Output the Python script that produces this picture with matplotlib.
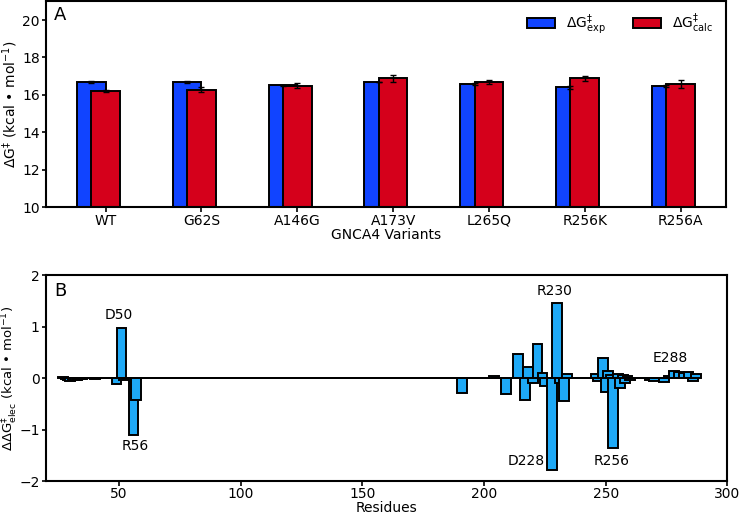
import numpy as np
import matplotlib
matplotlib.use("Agg")
import matplotlib.pyplot as plt

# ---------------- Panel A data ----------------
variants = ["WT", "G62S", "A146G", "A173V", "L265Q", "R256K", "R256A"]
dg_exp = [16.69, 16.69, 16.51, 16.69, 16.60, 16.40, 16.49]
dg_exp_err = [0.06, 0.07, 0.02, 0.02, 0.05, 0.10, 0.05]
dg_calc = [16.19, 16.28, 16.49, 16.88, 16.69, 16.88, 16.58]
dg_calc_err = [0.05, 0.13, 0.14, 0.21, 0.13, 0.13, 0.20]

# ---------------- Panel B data ----------------
first_residue = 27
last_residue = 287
# residues with a visible (non-zero) contribution; all others are ~0
ddg_residues = [27, 28, 29, 30, 31, 32, 33, 34, 35, 40,
                49, 51, 52, 56, 57,
                191, 204, 209, 214, 217, 218, 220, 222, 224, 225, 228, 230, 231, 233, 234,
                246, 247, 249, 250, 251, 252, 253, 255, 256, 257, 258, 259, 260,
                268, 270, 274, 276, 278, 280, 282, 284, 286, 287]
ddg_values = [0.02, -0.02, -0.04, -0.05, -0.04, -0.03, -0.03, -0.02, -0.02, -0.01,
              -0.12, 0.98, -0.03, -1.10, -0.42,
              -0.29, 0.04, -0.32, 0.46, -0.42, 0.21, -0.10, 0.66, 0.10, -0.15, -1.79, 1.45, -0.10, -0.45, 0.07,
              0.07, -0.05, 0.39, -0.28, 0.14, 0.06, -1.35, 0.08, -0.19, 0.06, -0.10, 0.03, -0.03,
              -0.03, -0.05, -0.08, 0.04, 0.13, 0.11, 0.10, 0.12, -0.05, 0.08]
annot_labels = ["D50", "R56", "R230", "D228", "R256", "E288"]
annot_x = [50, 56.6, 229.2, 217.3, 252.6, 276.6]
annot_y = [1.22, -1.32, 1.69, -1.61, -1.61, 0.39]

residues = np.arange(first_residue, last_residue + 1)
ddg = np.zeros(len(residues))
for r, v in zip(ddg_residues, ddg_values):
    ddg[r - first_residue] = v

plt.rcParams['font.family'] = ['DejaVu Sans']
plt.rcParams['mathtext.fontset'] = 'dejavusans'

fig = plt.figure(figsize=(7.39, 5.15), dpi=100)
axA = fig.add_axes([0.0622, 0.5975, 0.920, 0.400])
axB = fig.add_axes([0.0622, 0.0660, 0.922, 0.400])

BLUE = '#1144ff'
RED = '#d5001b'
LBLUE = '#1ea9f6'

x = np.arange(len(variants))
w = 0.3
axA.bar(x - 0.15, dg_exp, w, yerr=dg_exp_err, color=BLUE, edgecolor='black',
        linewidth=1.4, capsize=2.5, error_kw=dict(elinewidth=1.0, capthick=1.0),
        label=r'$\Delta$G$^{‡}_{\mathrm{exp}}$')
axA.bar(x, dg_calc, w, yerr=dg_calc_err, color=RED, edgecolor='black',
        linewidth=1.4, capsize=2.5, error_kw=dict(elinewidth=1.0, capthick=1.0),
        label=r'$\Delta$G$^{‡}_{\mathrm{calc}}$')
axA.set_ylim(10, 21)
axA.set_yticks([10, 12, 14, 16, 18, 20])
axA.set_xticks(x)
axA.set_xticklabels(variants)
axA.set_xlabel("GNCA4 Variants", fontsize=10, labelpad=0)
axA.set_ylabel(r'$\Delta$G$^{‡}$ (kcal • mol$^{-1}$)', fontsize=10)
axA.yaxis.set_label_coords(-0.038, 0.5)
axA.legend(loc='upper right', ncol=2, frameon=False, fontsize=10,
           bbox_to_anchor=(1.0, 1.015))
axA.text(0.012, 0.975, "A", transform=axA.transAxes, fontsize=13, va='top', ha='left')

axB.bar(residues, ddg, 4, color=LBLUE, edgecolor='black', linewidth=1.4)
axB.set_xlim(20, 300)
axB.set_ylim(-2, 2)
axB.set_yticks([-2, -1, 0, 1, 2])
axB.set_xticks([50, 100, 150, 200, 250, 300])
axB.set_xlabel("Residues", fontsize=10, labelpad=0)
axB.set_ylabel(r'$\Delta\Delta$G$^{‡}_{\mathrm{elec}}$ (kcal • mol$^{-1}$)', fontsize=9.5)
axB.yaxis.set_label_coords(-0.0375, 0.5)
axB.text(0.012, 0.965, "B", transform=axB.transAxes, fontsize=13, va='top', ha='left')
for lab, ax_, ay_ in zip(annot_labels, annot_x, annot_y):
    axB.text(ax_, ay_, lab, ha='center', va='center', fontsize=10)

for ax in (axA, axB):
    for s in ax.spines.values():
        s.set_linewidth(1.5)
    ax.tick_params(labelsize=10, width=1.2)
    ax.tick_params(axis='x', pad=1.0)
    ax.tick_params(axis='y', pad=1.5, length=3.0)

fig.savefig("out.png", dpi=100)
